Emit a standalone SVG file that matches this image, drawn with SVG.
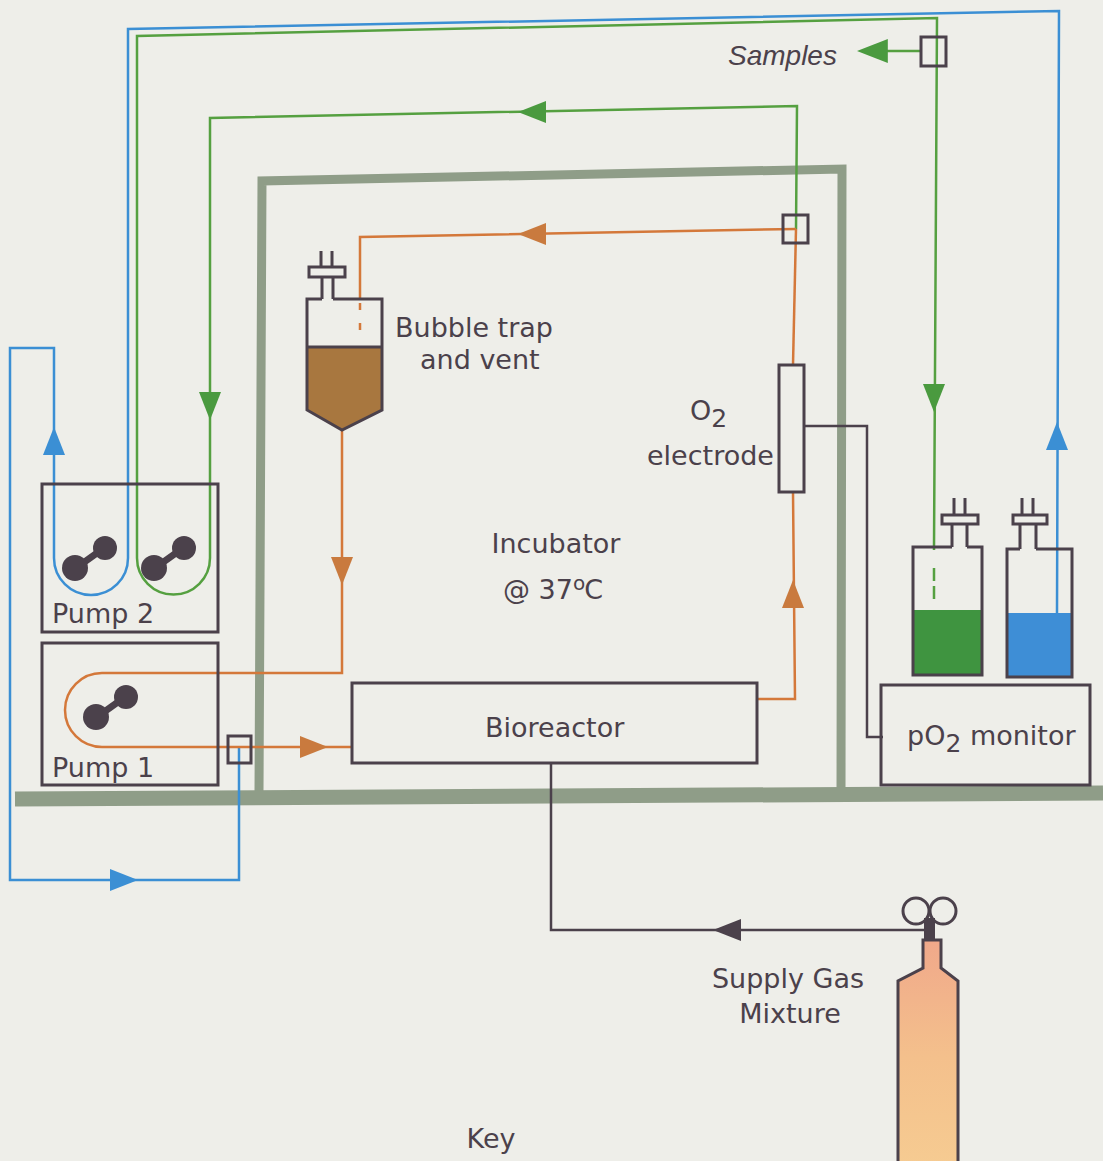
<svg xmlns="http://www.w3.org/2000/svg" xmlns:xlink="http://www.w3.org/1999/xlink" width="1103" height="1161" viewBox="0 0 1103 1161">
  <style>
    .lbl { font-family: "DejaVu Sans", "Liberation Sans", sans-serif; font-size: 27px; fill: #4b414b; }
    .ital { font-family: "Liberation Sans", Arial, sans-serif; font-style: italic; font-size: 28px; fill: #4b414b; }
    .box { fill: none; stroke: #4b414b; stroke-width: 3; }
    .wire { fill: none; stroke: #4b414b; stroke-width: 2.5; }
    .blue { fill: none; stroke: #3b8fd4; stroke-width: 2.5; }
    .green { fill: none; stroke: #55a040; stroke-width: 2.5; }
    .orange { fill: none; stroke: #d4783a; stroke-width: 2.5; }
    .wall { fill: none; stroke: #8f9d88; stroke-linejoin: miter; }
    .ah-blue { fill: #3b8fd4; }
    .ah-green { fill: #4a9a3f; }
    .ah-orange { fill: #c97a3e; }
    .ah-dark { fill: #4b414b; }
  </style>
  <defs>
    <!-- arrowhead pointing along +x, tip at origin -->
    <path id="ah" d="M0,0 L-28,-11 L-28,11 Z"/>
    <!-- peristaltic pump rotor -->
    <g id="rotor" fill="#4b414b">
      <line x1="-14" y1="10" x2="14" y2="-10" stroke="#4b414b" stroke-width="7"/>
      <circle cx="-15" cy="10" r="13"/>
      <circle cx="15" cy="-10" r="12"/>
    </g>
    <linearGradient id="gasFill" x1="0" y1="0" x2="0" y2="1">
      <stop offset="0" stop-color="#f0a88a"/>
      <stop offset="0.5" stop-color="#f4c08c"/>
      <stop offset="1" stop-color="#f6cc92"/>
    </linearGradient>
  </defs>

  <!-- paper -->
  <rect width="1103" height="1161" fill="#eeeee9"/>

  <!-- incubator walls and floor -->
  <g id="incubator">
    <path class="wall" stroke-width="9" d="M259,792 L262,181 L842,169 L841,792"/>
    <path class="wall" stroke-width="15" d="M15,799 L1103,793"/>
    <text class="lbl" x="556" y="553" text-anchor="middle">Incubator</text>
    <text class="lbl" x="503" y="599">@ 37<tspan font-size="20" dy="-9">o</tspan><tspan dx="-1" dy="9">C</tspan></text>
  </g>

  <!-- tubing and cabling -->
  <g id="connectors">
    <!-- blue return loop -->
    <path class="blue" d="M1057,613 L1059,11 L128,29 L128,558 A37,37 0 0 1 54,558 L54,348 L10,348 L10,880 L239,880 L239,748"/>
    <!-- green sample loop -->
    <path class="green" d="M934,547 L937,18 L137,36 L137,558 A36.5,36.5 0 0 0 210,558 L210,118 L797,106 L796,229"/>
    <path class="green" d="M934,547 L934,600" stroke-dasharray="3 18 13 5 13"/>
    <path class="green" d="M921,51 L870,51"/>
    <!-- orange medium loop -->
    <path class="orange" d="M796,229 L360,237 L360,298"/>
    <path class="orange" d="M360,303 L360,338" stroke-dasharray="7 13"/>
    <path class="orange" d="M342,430 L342,673 L102,673 A37,37 0 0 0 102,747 L352,747"/>
    <path class="orange" d="M757,699 L795,699 L793,492"/>
    <path class="orange" d="M793,365 L796,229"/>
    <!-- gas supply -->
    <path class="wire" d="M551,763 L551,930 L924,930"/>
    <!-- electrode cable -->
    <path class="wire" d="M804,426 L867,426 L867,737 L883,737"/>

    <!-- arrowheads -->
    <use href="#ah" class="ah-blue" transform="translate(54,427) rotate(-90)"/>
    <use href="#ah" class="ah-blue" transform="translate(138,880)"/>
    <use href="#ah" class="ah-blue" transform="translate(1057,422) rotate(-90)"/>
    <use href="#ah" class="ah-green" transform="translate(210,420) rotate(90)"/>
    <use href="#ah" class="ah-green" transform="translate(934,412) rotate(90)"/>
    <use href="#ah" class="ah-green" transform="translate(857,51) rotate(180) scale(1.1)"/>
    <use href="#ah" class="ah-green" transform="translate(518,112) rotate(180)"/>
    <use href="#ah" class="ah-orange" transform="translate(518,234) rotate(180)"/>
    <use href="#ah" class="ah-orange" transform="translate(342,585) rotate(90)"/>
    <use href="#ah" class="ah-orange" transform="translate(328,747)"/>
    <use href="#ah" class="ah-orange" transform="translate(793,580) rotate(-90)"/>
    <use href="#ah" class="ah-dark" transform="translate(713,930) rotate(180)"/>
  </g>

  <!-- sampling ports -->
  <g id="sample-port">
    <rect class="box" x="921" y="37" width="25" height="29"/>
    <text class="ital" x="728" y="65">Samples</text>
  </g>
  <g id="port-incubator">
    <rect class="box" x="783" y="215" width="25" height="28"/>
  </g>
  <g id="port-pump1">
    <rect class="box" x="228" y="736" width="23" height="27"/>
  </g>

  <!-- bubble trap -->
  <g id="bubble-trap">
    <path d="M307,347 L382,347 L382,410 L342,430 L307,410 Z" fill="#a8773f"/>
    <path class="box" d="M322,299 L307,299 L307,410 L342,430 L382,410 L382,299 L333,299 M322,299 L322,277 M333,299 L333,277 M321,267 L321,251 M332,267 L332,251 M307,347 L382,347"/>
    <rect class="box" x="309" y="267" width="36" height="10"/>
    <text class="lbl" x="395" y="337">Bubble trap</text>
    <text class="lbl" x="420" y="369">and vent</text>
  </g>

  <!-- pumps -->
  <g id="pump-2">
    <rect class="box" x="42" y="484" width="176" height="148"/>
    <use href="#rotor" transform="translate(90,558)"/>
    <use href="#rotor" transform="translate(169,558)"/>
    <text class="lbl" x="52" y="623">Pump 2</text>
  </g>
  <g id="pump-1">
    <rect class="box" x="42" y="643" width="176" height="142"/>
    <use href="#rotor" transform="translate(111,707)"/>
    <text class="lbl" x="52" y="777">Pump 1</text>
  </g>

  <!-- bioreactor -->
  <g id="bioreactor">
    <rect class="box" x="352" y="683" width="405" height="80"/>
    <text class="lbl" x="485" y="737">Bioreactor</text>
  </g>

  <!-- oxygen electrode -->
  <g id="o2-electrode">
    <rect class="box" x="779" y="365" width="25" height="127"/>
    <text class="lbl" x="690" y="420">O<tspan font-size="25" dy="7">2</tspan></text>
    <text class="lbl" x="647" y="465">electrode</text>
  </g>

  <!-- pO2 monitor -->
  <g id="po2-monitor">
    <rect class="box" x="881" y="685" width="209" height="100"/>
    <text class="lbl" x="907" y="745">pO<tspan font-size="25" dy="7">2</tspan><tspan dy="-7"> monitor</tspan></text>
  </g>

  <!-- sample bottles -->
  <g id="bottle-green">
    <rect x="913" y="610" width="69" height="65" fill="#3f9440"/>
    <path class="box" d="M952,547 L913,547 L913,675 L982,675 L982,547 L967,547 M952,547 L952,524 M967,547 L967,524 M954,515 L954,498 M965,515 L965,498"/>
    <rect class="box" x="942" y="515" width="36" height="9"/>
  </g>
  <g id="bottle-blue">
    <rect x="1007" y="613" width="65" height="64" fill="#3e8ed6"/>
    <path class="box" d="M1020,549 L1007,549 L1007,677 L1072,677 L1072,549 L1036,549 M1020,549 L1020,524 M1036,549 L1036,524 M1022,515 L1022,498 M1033,515 L1033,498"/>
    <rect class="box" x="1013" y="515" width="34" height="9"/>
  </g>

  <!-- gas cylinder -->
  <g id="gas-cylinder">
    <path d="M923,940 L941,940 L941,968 L958,981 L958,1175 L898,1175 L898,981 L923,968 Z" fill="url(#gasFill)" stroke="#4b414b" stroke-width="3"/>
    <rect x="924" y="918" width="11" height="22" fill="#4b414b"/>
    <circle cx="916" cy="911" r="13" fill="none" stroke="#4b414b" stroke-width="3"/>
    <circle cx="943" cy="911" r="13" fill="none" stroke="#4b414b" stroke-width="3"/>
    <text class="lbl" x="788" y="988" text-anchor="middle">Supply Gas</text>
    <text class="lbl" x="790" y="1023" text-anchor="middle">Mixture</text>
  </g>

  <g id="key">
    <text class="lbl" x="491" y="1148" text-anchor="middle">Key</text>
  </g>
</svg>
